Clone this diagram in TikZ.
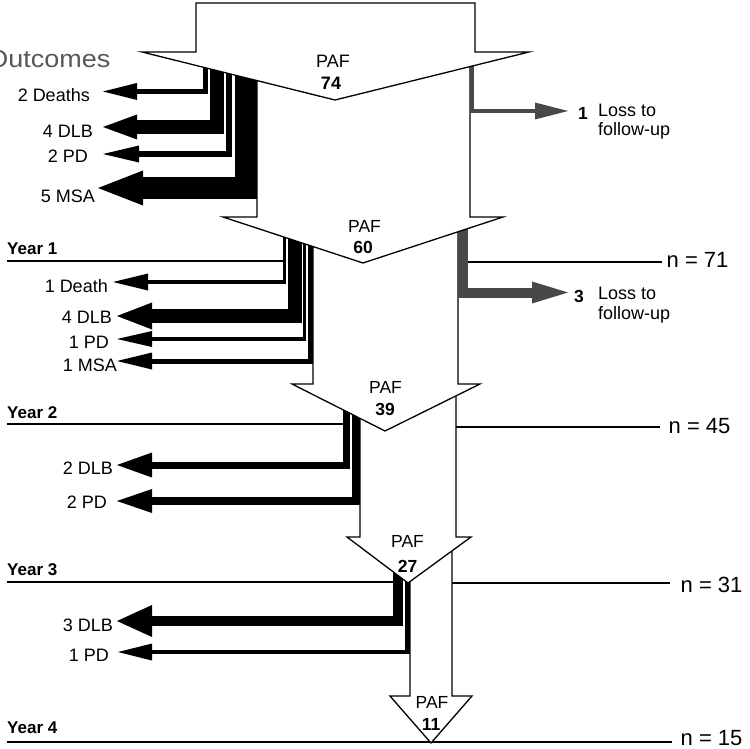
\documentclass[tikz,border=0pt]{standalone}
\usepackage{fontspec}
\usepackage{graphicx}
\setmainfont{Liberation Sans}
\usetikzlibrary{arrows.meta}
\definecolor{lossgray}{RGB}{72,72,72}
\definecolor{outgray}{RGB}{88,88,88}
\tikzset{
  bigarrow/.style={draw=black, fill=white, line width=1.3pt, line join=miter},
  outc/.style n args={3}{draw=black, line width=#1, line join=miter, -{Triangle[length=#2, width=#3, line width=0pt]}},
  lossc/.style n args={3}{draw=lossgray, line width=#1, line join=miter, -{Triangle[length=#2, width=#3, line width=0pt]}},
  sepline/.style={draw=black, line width=1.1pt},
  outlbl/.style={inner sep=0pt, anchor=base east, font=\fontsize{18}{21}\selectfont},
  yearlbl/.style={inner sep=0pt, anchor=base west, font=\bfseries\fontsize{17}{20}\selectfont},
  nlbl/.style={inner sep=0pt, anchor=base west, font=\fontsize{22}{26}\selectfont},
  losslbl/.style={inner sep=0pt, anchor=base west, font=\fontsize{18}{21}\selectfont},
  lossnum/.style={inner sep=0pt, anchor=base west, font=\bfseries\fontsize{17.5}{21}\selectfont},
  paflbl/.style={inner sep=0pt, anchor=base, font=\fontsize{17.5}{20}\selectfont},
  pafnum/.style={inner sep=0pt, anchor=base, font=\bfseries\fontsize{17.5}{20}\selectfont},
}
\begin{document}
\begin{tikzpicture}[x=1pt, y=-1pt]
\useasboundingbox (0,0) rectangle (750,749);
\fill[white] (0,0) rectangle (750,749);
\clip (0,0) rectangle (750,749);

% ---- year separators and n lines
\coordinate (y1l) at (7,261);   \coordinate (y1r) at (284,261);
\coordinate (n1l) at (465,262); \coordinate (n1r) at (662,262);
\coordinate (y2l) at (7,424);   \coordinate (y2r) at (346,424);
\coordinate (n2l) at (456,427); \coordinate (n2r) at (660,427);
\coordinate (y3l) at (7,582);   \coordinate (y3r) at (398,582);
\coordinate (n3l) at (452,583); \coordinate (n3r) at (670,583);
\coordinate (y4l) at (7,742);   \coordinate (n4r) at (672,742);
\draw[sepline] (y1l) -- (y1r);
\draw[sepline] (n1l) -- (n1r);
\draw[sepline] (y2l) -- (y2r);
\draw[sepline] (n2l) -- (n2r);
\draw[sepline] (y3l) -- (y3r);
\draw[sepline] (n3l) -- (n3r);
\draw[sepline] (y4l) -- (n4r);

% ---- arrow 5 (PAF 11)
\draw[bigarrow] (410,542) -- (452,542) -- (452,696) -- (472,696) -- (431,743) -- (390,696) -- (410,696) -- cycle;

% ---- outcomes of arrow 4 (year 3)
\coordinate (e4a) at (117,621);
\coordinate (e4b) at (118,652);
\draw[outc={10.5pt}{35pt}{32pt}] (398,540) -- (398,621) -- (e4a);
\draw[outc={4.5pt}{34pt}{17pt}] (407.5,540) -- (407.5,652) -- (e4b);

% ---- arrow 4 (PAF 27)
\draw[bigarrow] (360,390) -- (456,390) -- (456,537) -- (471,537) -- (408,583) -- (347,537) -- (360,537) -- cycle;

% ---- outcomes of arrow 3 (year 2)
\coordinate (e3a) at (117,465);
\coordinate (e3b) at (117,501);
\draw[outc={7pt}{35pt}{25pt}] (346.5,388) -- (346.5,465) -- (e3a);
\draw[outc={8pt}{35pt}{24pt}] (356,388) -- (356,501) -- (e3b);

% ---- arrow 3 (PAF 39)
\draw[bigarrow] (313,225) -- (458,225) -- (458,384) -- (480,384) -- (385,431) -- (292,384) -- (313,384) -- cycle;

% ---- outcomes of arrow 2 (year 1)
\coordinate (e2a) at (113,282);
\coordinate (e2b) at (117,316);
\coordinate (e2c) at (117,339);
\coordinate (e2d) at (117,361);
\coordinate (e2l) at (568,292.5);
\draw[outc={3.5pt}{35pt}{17pt}] (284.5,222) -- (284.5,282) -- (e2a);
\draw[outc={14pt}{35pt}{27pt}] (294.5,222) -- (294.5,316) -- (e2b);
\draw[outc={3.5pt}{35pt}{16pt}] (304.5,222) -- (304.5,339) -- (e2c);
\draw[outc={5pt}{35pt}{17pt}] (310.5,222) -- (310.5,361) -- (e2d);
\draw[lossc={10pt}{36pt}{22pt}] (463,222) -- (463,292.5) -- (e2l);

% ---- arrow 2 (PAF 60)
\draw[bigarrow] (257,60) -- (470,60) -- (470,217) -- (503,217) -- (363,263) -- (223,217) -- (257,217) -- cycle;

% ---- outcomes of arrow 1 (baseline)
\coordinate (e1a) at (103,91.5);
\coordinate (e1b) at (103,127);
\coordinate (e1c) at (103,154);
\coordinate (e1d) at (98,188);
\coordinate (e1l) at (568,111);
\draw[outc={5.5pt}{34pt}{17pt}] (205.5,58) -- (205.5,91.5) -- (e1a);
\draw[outc={13.5pt}{34pt}{25pt}] (217,58) -- (217,127) -- (e1b);
\draw[outc={6.5pt}{36pt}{17pt}] (229,58) -- (229,154) -- (e1c);
\draw[outc={22pt}{45pt}{35pt}] (245.5,58) -- (245.5,188) -- (e1d);
\draw[lossc={4pt}{33pt}{17pt}] (472,58) -- (472,111) -- (e1l);

% ---- arrow 1 (PAF 74)
\draw[bigarrow] (196,3) -- (475,3) -- (475,52) -- (529,52) -- (335,100) -- (142,52) -- (196,52) -- cycle;

% ---- PAF labels
\node[paflbl, font=\fontsize{18}{20}\selectfont] (p1) at (333,68) {PAF};
\node[pafnum, font=\bfseries\fontsize{18}{20}\selectfont] (p1n) at (331,90) {74};
\node[paflbl] (p2) at (364.5,233) {PAF};
\node[pafnum] (p2n) at (363,253) {60};
\node[paflbl] (p3) at (385.5,393) {PAF};
\node[pafnum] (p3n) at (385,415) {39};
\node[paflbl] (p4) at (407.5,547) {PAF};
\node[pafnum] (p4n) at (407.5,572) {27};
\node[paflbl] (p5) at (432,708) {PAF};
\node[pafnum] (p5n) at (431,730) {11};

% ---- outcome labels
\node[inner sep=0pt, anchor=base east, text=outgray, font=\fontsize{24.5}{28}\selectfont] (outc) at (110.5,68) {\scalebox{1.1}[1]{Outcomes}};
\node[outlbl] (l1a) at (90,102) {2 Deaths};
\node[outlbl] (l1b) at (93,138) {4 DLB};
\node[outlbl] (l1c) at (88,163) {2 PD};
\node[outlbl] (l1d) at (95,202) {5 MSA};
\node[outlbl] (l2a) at (108,292) {1 Death};
\node[outlbl] (l2b) at (112,323) {4 DLB};
\node[outlbl] (l2c) at (109,348) {1 PD};
\node[outlbl] (l2d) at (117,371) {1 MSA};
\node[outlbl] (l3a) at (113,474) {2 DLB};
\node[outlbl] (l3b) at (107,508) {2 PD};
\node[outlbl] (l4a) at (113,631) {3 DLB};
\node[outlbl] (l4b) at (109,661) {1 PD};

% ---- year labels
\node[yearlbl] (yr1) at (7,254) {Year 1};
\node[yearlbl] (yr2) at (7,418) {Year 2};
\node[yearlbl] (yr3) at (7,575) {Year 3};
\node[yearlbl] (yr4) at (7,733) {Year 4};

% ---- n labels
\node[nlbl] (nn1) at (666.5,267) {n = 71};
\node[nlbl] (nn2) at (668.5,433) {n = 45};
\node[nlbl] (nn3) at (680.5,592) {n = 31};
\node[nlbl] (nn4) at (680.5,745) {n = 15};

% ---- loss to follow-up labels
\node[lossnum] (ln1) at (578,120) {1};
\node[losslbl] (lt1a) at (598,117) {Loss to};
\node[losslbl] (lt1b) at (598,136) {follow-up};
\node[lossnum] (ln2) at (574,302) {3};
\node[losslbl] (lt2a) at (598,299) {Loss to};
\node[losslbl] (lt2b) at (598,319) {follow-up};
\end{tikzpicture}
\end{document}
